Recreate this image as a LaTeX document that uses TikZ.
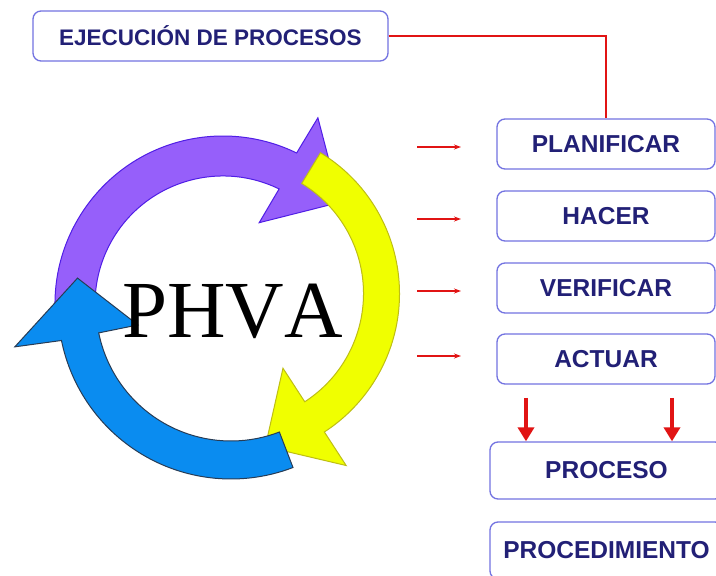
\documentclass[tikz,border=0pt]{standalone}
\usepackage{fontspec}
\usetikzlibrary{calc,arrows.meta}
\newfontfamily\arialf{Liberation Sans}
\newfontfamily\timesnk[Kerning=Off]{Liberation Serif}
\definecolor{navytxt}{RGB}{34,32,118}
\definecolor{boxline}{RGB}{115,115,225}
\definecolor{redl}{RGB}{225,20,20}
\definecolor{purfill}{RGB}{150,95,250}
\definecolor{purline}{RGB}{80,30,230}
\definecolor{yelfill}{RGB}{240,255,0}
\definecolor{yelline}{RGB}{190,190,20}
\definecolor{blufill}{RGB}{10,140,240}
\definecolor{bluline}{RGB}{40,60,85}
\tikzset{
  box/.style={draw=boxline, line width=1.3pt, rounded corners=8pt, fill=white,
    text=navytxt, font=\arialf\bfseries\fontsize{24.5}{28}\selectfont, inner sep=0pt},
  redline/.style={draw=redl, line width=2pt},
  smallarrow/.style={draw=redl, line width=1.1pt, -{Stealth[length=7pt,width=5pt]}},
  bigarrow/.style={draw=redl, line width=4.5pt, -{Triangle[length=14pt,width=16pt]}},
  ringarrow/.style={line width=1pt, line join=miter}
}
\begin{document}
\begin{tikzpicture}[x=1pt,y=1pt]
\clip (0,0) rectangle (716,576);
\fill[white] (0,0) rectangle (716,576);
% centres of the three curved arrows
\coordinate (pc) at (223,272);
\coordinate (yc) at (234.5,282.4);
\coordinate (bc) at (231,270);
% purple arrow
\filldraw[ringarrow, fill=purfill, draw=purline]
  ($(pc)+(188:168)$) arc[start angle=188, end angle=64, radius=168]
  -- ($(pc)+(63:209)$) -- ($(pc)+(41:155)$) -- ($(pc)+(66:89)$)
  -- ($(pc)+(64:128)$) arc[start angle=64, end angle=188, radius=128] -- cycle;
% yellow arrow
\filldraw[ringarrow, fill=yelfill, draw=yelline]
  ($(yc)+(58.6:165)$) arc[start angle=58.6, end angle=-57, radius=165]
  -- ($(yc)+(-57:205)$) -- ($(yc)+(-78.6:156)$) -- ($(yc)+(-57:89)$)
  -- ($(yc)+(-57:129)$) arc[start angle=-57, end angle=58.6, radius=129] -- cycle;
% blue arrow
\filldraw[ringarrow, fill=blufill, draw=bluline]
  ($(bc)+(-69:173)$) arc[start angle=-69, end angle=-168.5, radius=173]
  -- ($(bc)+(-169.3:220)$) -- ($(bc)+(-190.3:156)$) -- ($(bc)+(-168.5:95)$)
  -- ($(bc)+(-168.5:135)$) arc[start angle=-168.5, end angle=-69, radius=135] -- cycle;
% PHVA
\node[anchor=base, inner sep=0pt, font=\timesnk\fontsize{81}{90}\selectfont] (phva) at (232.5,238) {PHVA};
% boxes
\node[box, minimum width=355pt, minimum height=50pt, font=\arialf\bfseries\fontsize{22.5}{26}\selectfont] (ejec) at (210.5,540) {EJECUCIÓN DE PROCESOS};
\node[box, minimum width=218pt, minimum height=50pt] (plan) at (606,432) {PLANIFICAR};
\node[box, minimum width=218pt, minimum height=50pt] (hacer) at (606,360) {HACER};
\node[box, minimum width=218pt, minimum height=50pt] (verif) at (606,288) {VERIFICAR};
\node[box, minimum width=218pt, minimum height=50pt] (actuar) at (606,217) {ACTUAR};
\node[box, minimum width=233pt, minimum height=57pt] (proceso) at (606.5,105.5) {PROCESO};
\node[box, minimum width=233pt, minimum height=57pt] (proced) at (606.5,25.5) {PROCEDIMIENTO};
% red connector
\draw[redline] (ejec.east) -| (plan.north);
% small arrows
\coordinate (s1) at (417,429);
\coordinate (s2) at (417,357);
\coordinate (s3) at (417,285);
\coordinate (s4) at (417,220);
\foreach \s in {s1,s2,s3,s4} \draw[smallarrow] (\s) -- ++(44,0);
% big down arrows
\coordinate (d1) at (526,178);
\coordinate (d2) at (672,178);
\draw[bigarrow] (d1) -- (d1 |- proceso.north);
\draw[bigarrow] (d2) -- (d2 |- proceso.north);
\end{tikzpicture}
\end{document}
